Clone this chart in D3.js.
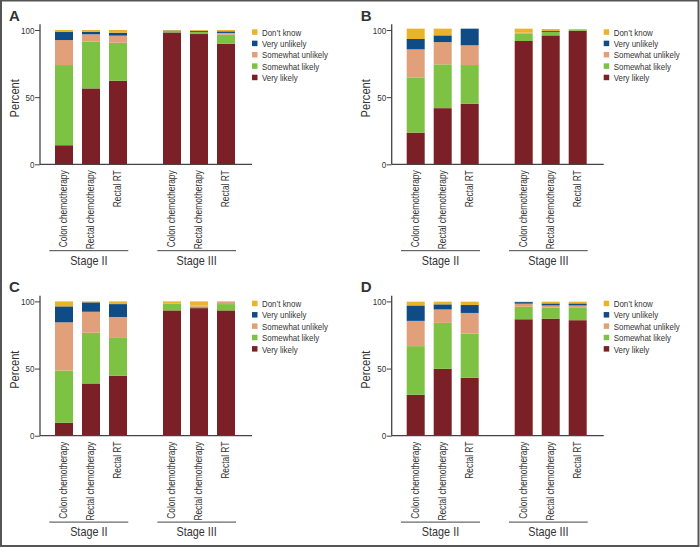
<!DOCTYPE html>
<html>
<head>
<meta charset="utf-8">
<script src="https://cdn.jsdelivr.net/npm/d3@7"></script>
<style>
  body { margin: 0; background: #fff; }
  svg { display: block; }
  text { font-family: "Liberation Sans", Arial, sans-serif; fill: #333; }
</style>
</head>
<body>
<div id="chart"></div>
<script>
var svgWidth = 700;
var svgHeight = 547;

// response categories, bottom to top of each stack
var responses = ["Very likely", "Somewhat likely", "Somewhat unlikely", "Very unlikely", "Don\u2019t know"];
var colors = ["#7a2026", "#7dc242", "#e1a07a", "#0f4c86", "#e9b42c"];

var treatments = ["Colon chemotherapy", "Rectal chemotherapy", "Rectal RT"];
var stages = ["Stage II", "Stage III"];
var yTicks = [0, 50, 100];

// each row: one bar [very likely, somewhat likely, somewhat unlikely, very unlikely, don't know]
// first three bars Stage II, last three Stage III
var panelA = [
    [14.2, 59.7, 18.6, 6.0, 1.5],
    [56.5, 34.8, 5.5, 2.0, 1.2],
    [62.2, 28.3, 5.3, 2.2, 2.0],
    [98.2, 1.0, 0, 0.4, 0.4],
    [97.0, 1.6, 0, 0.8, 0.6],
    [89.8, 6.7, 1.3, 1.2, 1.0]
];
var panelB = [
    [23.6, 41.1, 20.9, 7.7, 7.7],
    [41.8, 32.6, 16.6, 5.0, 5.0],
    [45.0, 28.9, 14.7, 12.4, 0],
    [91.8, 5.7, 0.5, 0, 3.0],
    [96.0, 2.5, 0, 0.7, 1.5],
    [99.5, 1.0, 0, 0, 0]
];
var panelC = [
    [9.7, 38.8, 35.9, 11.9, 3.7],
    [38.9, 37.8, 15.6, 7.0, 0.7],
    [44.6, 28.2, 15.6, 9.6, 2.0],
    [93.3, 5.0, 0, 0, 1.7],
    [95.0, 1.0, 1.0, 0, 3.0],
    [93.3, 4.7, 2.0, 0, 0]
];
var panelD = [
    [30.5, 36.2, 18.8, 11.5, 2.8],
    [49.8, 34.2, 10.0, 3.8, 2.0],
    [43.1, 33.0, 15.3, 5.9, 2.5],
    [86.7, 9.3, 2.3, 1.2, 0.3],
    [87.2, 8.1, 1.7, 1.5, 1.3],
    [86.0, 9.6, 1.4, 1.5, 1.3]
];

var panels = [
    { letter: "A", data: panelA, x: 40, y: 164.3 },
    { letter: "B", data: panelB, x: 391.7, y: 164.3 },
    { letter: "C", data: panelC, x: 40, y: 435.7 },
    { letter: "D", data: panelD, x: 391.7, y: 435.7 }
];

var svg = d3.select("#chart")
    .append("svg")
    .attr("width", svgWidth)
    .attr("height", svgHeight);

// outer frame
svg.append("rect")
    .attr("x", 1).attr("y", 0.5)
    .attr("width", svgWidth - 2.5).attr("height", svgHeight - 1.5)
    .attr("fill", "none")
    .attr("stroke", "#555")
    .attr("stroke-width", 2);

// slots: 3 bars, an empty spacer, 3 bars
var slots = ["s0", "s1", "s2", "gap", "s3", "s4", "s5"];
var barSlots = ["s0", "s1", "s2", "s3", "s4", "s5"];

panels.forEach(function(p) {
    var g = svg.append("g").attr("transform", `translate(${p.x}, ${p.y})`);

    var x = d3.scaleBand()
        .domain(slots)
        .range([10.5, 199.5])
        .paddingInner(1 / 3)
        .paddingOuter(1 / 6);

    var y = d3.scaleLinear()
        .domain([0, 100])
        .range([0, -134.3]);

    var rows = p.data.map(function(r, i) {
        var o = { slot: barSlots[i] };
        responses.forEach(function(k, j) { o[k] = r[j]; });
        return o;
    });
    var series = d3.stack().keys(responses)(rows);

    g.selectAll("g.layer")
        .data(series)
        .enter()
        .append("g")
        .attr("class", "layer")
        .attr("fill", (d, i) => colors[i])
        .selectAll("rect")
        .data(d => d)
        .enter()
        .append("rect")
        .attr("x", d => x(d.data.slot))
        .attr("width", x.bandwidth())
        .attr("y", d => y(d[1]))
        .attr("height", d => y(d[0]) - y(d[1]));

    // y axis
    var leftAxis = d3.axisLeft(y).tickValues(yTicks).tickSize(5).tickPadding(1.5);
    var ya = g.append("g").call(leftAxis);
    ya.select(".domain").remove();
    ya.append("line")
        .attr("x1", 0).attr("x2", 0)
        .attr("y1", 0).attr("y2", -140)
        .attr("stroke", "#444").attr("stroke-width", 1.3);
    ya.selectAll(".tick line").attr("stroke", "#444");
    ya.selectAll(".tick text")
        .style("font-family", "'Liberation Sans', Arial, sans-serif")
        .style("font-size", "9.5px")
        .attr("transform", "scale(0.85, 1)")
        .attr("fill", "#333");

    // x axis line
    g.append("line")
        .attr("x1", 0).attr("x2", 212)
        .attr("y1", 0).attr("y2", 0)
        .attr("stroke", "#444").attr("stroke-width", 1.3);

    // category labels
    g.selectAll("text.cat")
        .data(barSlots)
        .enter()
        .append("text")
        .attr("class", "cat")
        .attr("transform", d => `translate(${x(d) + x.bandwidth() / 2 + 3.3}, 6) rotate(-90) scale(0.82, 1)`)
        .attr("text-anchor", "end")
        .style("font-size", "10.2px")
        .text((d, i) => treatments[i % 3]);

    // group brackets
    var groupSpan = [[9.3, 88.3], [117.3, 196]];
    stages.forEach(function(s, i) {
        g.append("line")
            .attr("x1", groupSpan[i][0]).attr("x2", groupSpan[i][1])
            .attr("y1", 86.4).attr("y2", 86.4)
            .attr("stroke", "#444").attr("stroke-width", 1);
        g.append("text")
            .attr("transform", `translate(${(groupSpan[i][0] + groupSpan[i][1]) / 2}, 100.5) scale(0.88, 1)`)
            .attr("text-anchor", "middle")
            .style("font-size", "12.3px")
            .text(s);
    });

    // y label
    g.append("text")
        .attr("transform", "translate(-21.3, -66) rotate(-90) scale(0.88, 1)")
        .attr("text-anchor", "middle")
        .style("font-size", "12.6px")
        .text("Percent");

    // panel letter
    g.append("text")
        .attr("x", -31)
        .attr("y", -143.6)
        .style("font-weight", "bold")
        .style("font-size", "15px")
        .attr("fill", "#111")
        .text(p.letter);

    // legend, top entry first
    var legend = g.selectAll("g.legend")
        .data(responses.slice().reverse())
        .enter()
        .append("g")
        .attr("class", "legend")
        .attr("transform", (d, i) => `translate(212, ${-132 + i * 11.35})`);
    legend.append("rect")
        .attr("x", 0).attr("y", -3)
        .attr("width", 5.5).attr("height", 5.5)
        .attr("fill", (d, i) => colors[colors.length - 1 - i]);
    legend.append("text")
        .attr("transform", "translate(10, 3.4) scale(0.86, 1)")
        .style("font-size", "9.2px")
        .attr("fill", "#444")
        .text(d => d);
});
</script>
</body>
</html>
